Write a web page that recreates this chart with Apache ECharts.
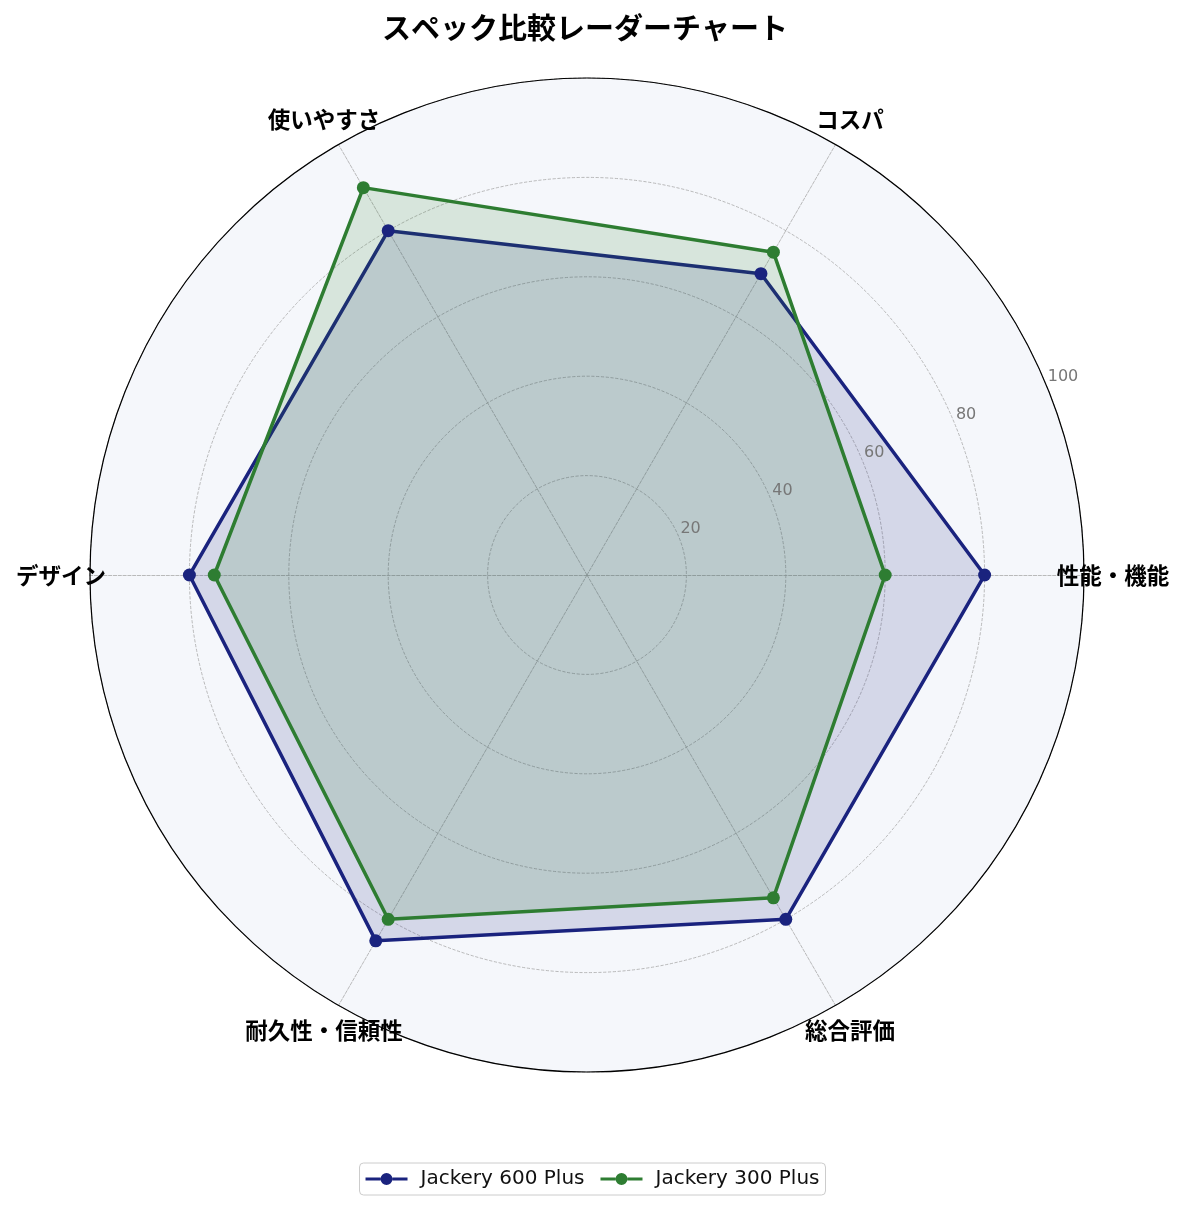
<!DOCTYPE html>
<html>
<head>
<meta charset="utf-8">
<script src="https://cdn.jsdelivr.net/npm/echarts@6/dist/echarts.min.js"></script>
<style>
  html, body { margin: 0; padding: 0; background: #fff; }
  #chart { width: 1185px; height: 1211px; }
</style>
</head>
<body>
<div id="chart"></div>
<script>
// 評価項目（右から反時計回り）
const categories = ['性能・機能', 'コスパ', '使いやすさ', 'デザイン', '耐久性・信頼性', '総合評価'];
const seriesNames = ['Jackery 600 Plus', 'Jackery 300 Plus'];
const scores600 = [80, 70, 80, 80, 85, 80];
const scores300 = [60, 75, 90, 75, 80, 75];
const radialTicks = [0, 20, 40, 60, 80, 100];

const colors = ['#1a237e', '#2e7d32'];
const FONT = '"Noto Sans CJK JP", "Noto Sans", sans-serif';
const LATIN = '"DejaVu Sans", "Noto Sans CJK JP", sans-serif';
const center = [587, 575];
const radius = 497;

// 凡例アイコン：線＋丸
const legendIcon = 'path://M0,5.5 L15,5.5 L15,8.5 L0,8.5 Z M27,5.5 L42,5.5 L42,8.5 L27,8.5 Z M27,7 A6,6 0 1,1 15,7 A6,6 0 1,1 27,7 Z';

const chart = echarts.init(document.getElementById('chart'));

chart.setOption({
  backgroundColor: '#ffffff',
  textStyle: { fontFamily: FONT },
  title: {
    text: 'スペック比較レーダーチャート',
    left: 377,
    top: 8,
    textStyle: { fontSize: 29, fontWeight: 'bold', color: '#000', fontFamily: FONT }
  },
  legend: {
    bottom: 16,
    left: 'center',
    data: seriesNames,
    icon: legendIcon,
    itemWidth: 42,
    itemHeight: 14,
    itemGap: 16,
    padding: [6, 6],
    borderColor: '#cccccc',
    borderWidth: 1,
    borderRadius: 4,
    textStyle: { fontSize: 20, color: '#111', fontFamily: LATIN, padding: [0, 0, 0, 8] }
  },
  polar: { center: center, radius: radius },
  angleAxis: {
    type: 'value',
    min: 0,
    max: 360,
    startAngle: 22.5,
    z: 10,
    axisLine: { show: true, lineStyle: { color: '#000', width: 1.2 } },
    axisTick: { show: false },
    axisLabel: { show: false },
    splitLine: { show: false }
  },
  radiusAxis: {
    type: 'value',
    min: radialTicks[0],
    max: radialTicks[radialTicks.length - 1],
    interval: 20,
    z: 10,
    axisLine: { show: false },
    axisTick: { show: false },
    splitLine: { show: false },
    axisLabel: {
      showMinLabel: false,
      margin: 9,
      align: 'left',
      verticalAlign: 'middle',
      padding: [0, 0, 0, 5],
      color: '#777',
      fontSize: 16,
      fontFamily: LATIN
    }
  },
  radar: {
    center: center,
    radius: radius,
    startAngle: 0,
    shape: 'circle',
    splitNumber: 5,
    indicator: categories.map(function (c) { return { name: c, min: 0, max: 100 }; }),
    nameGap: 29,
    axisName: {
      color: '#000',
      fontSize: 22.5,
      fontWeight: 'bold',
      fontFamily: FONT,
      align: 'center',
      verticalAlign: 'middle'
    },
    axisLine: { lineStyle: { color: '#aaaaaa', type: 'dashed', width: 0.8 } },
    splitLine: { lineStyle: { color: '#aaaaaa', type: 'dashed', width: 0.8 } },
    splitArea: { show: true, areaStyle: { color: ['#f5f7fb'] } }
  },
  series: [{
    type: 'radar',
    symbol: 'circle',
    symbolSize: 13,
    data: [
      {
        name: seriesNames[0],
        value: scores600,
        itemStyle: { color: colors[0] },
        lineStyle: { color: colors[0], width: 3.5 },
        areaStyle: { color: colors[0], opacity: 0.15 }
      },
      {
        name: seriesNames[1],
        value: scores300,
        itemStyle: { color: colors[1] },
        lineStyle: { color: colors[1], width: 3.5 },
        areaStyle: { color: colors[1], opacity: 0.15 }
      }
    ]
  }]
});
</script>
</body>
</html>
